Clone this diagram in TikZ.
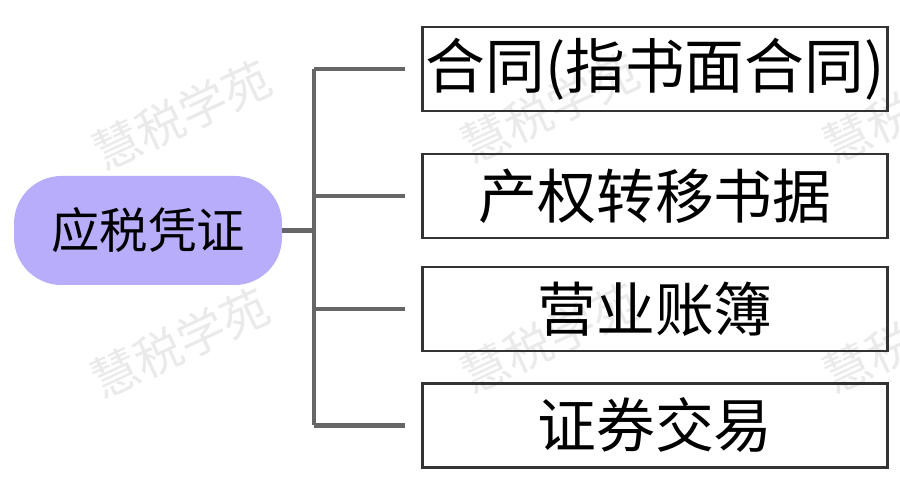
\documentclass[tikz,border=0pt]{standalone}
\usepackage{fontspec}
\setmainfont{Noto Sans CJK SC}
\usetikzlibrary{positioning}
\definecolor{rootfill}{HTML}{B8ADFA}
\definecolor{linegray}{HTML}{666666}
\definecolor{markgray}{HTML}{EAEAEA}

\begin{document}
\begin{tikzpicture}[
    rootbox/.style={fill=rootfill, rounded corners=0.95cm, minimum width=5.36cm, minimum height=2.18cm, font=\fontsize{27.5}{30}\selectfont},
    leafbox/.style={draw=black!80, line width=1.5pt, minimum width=9.3cm, minimum height=1.68cm, font=\fontsize{33.5}{36}\selectfont},
    branch/.style={draw=linegray, line width=2.3pt}
  ]
      \useasboundingbox (0,0) rectangle (18,-10);
      % watermark
      \foreach \x/\y in {3.64/-2.3, 3.6/-6.86, 11.0/-2.16, 11.0/-6.76, 18.24/-2.16, 18.24/-6.76}
        \node[rotate=25, text=markgray, font=\fontsize{27}{30}\selectfont] at (\x,\y) {慧税学苑};
      \node[rootbox] (root) at (2.96,-4.61) {应税凭证};
      \node[leafbox, font=\fontsize{34}{36}\selectfont, inner sep=0pt] (contract) at (13.1,-1.38) {合同(指书面合同)};
      \node[leafbox] (transfer) at (13.1,-3.92) {产权转移书据};
      \node[leafbox] (ledger) at (13.1,-6.18) {营业账簿};
      \node[leafbox] (stock) at (13.1,-8.51) {证券交易};
      \coordinate (hub) at (6.28,-4.61);
      \draw[branch] (root.east) -- (hub);
      \draw[branch] (hub |- contract.west) -- (hub |- stock.west);
      \foreach \leaf in {contract, transfer, ledger, stock}
        \draw[branch] (hub |- \leaf.west) -- ([xshift=-0.32cm]\leaf.west);
\end{tikzpicture}
\end{document}
